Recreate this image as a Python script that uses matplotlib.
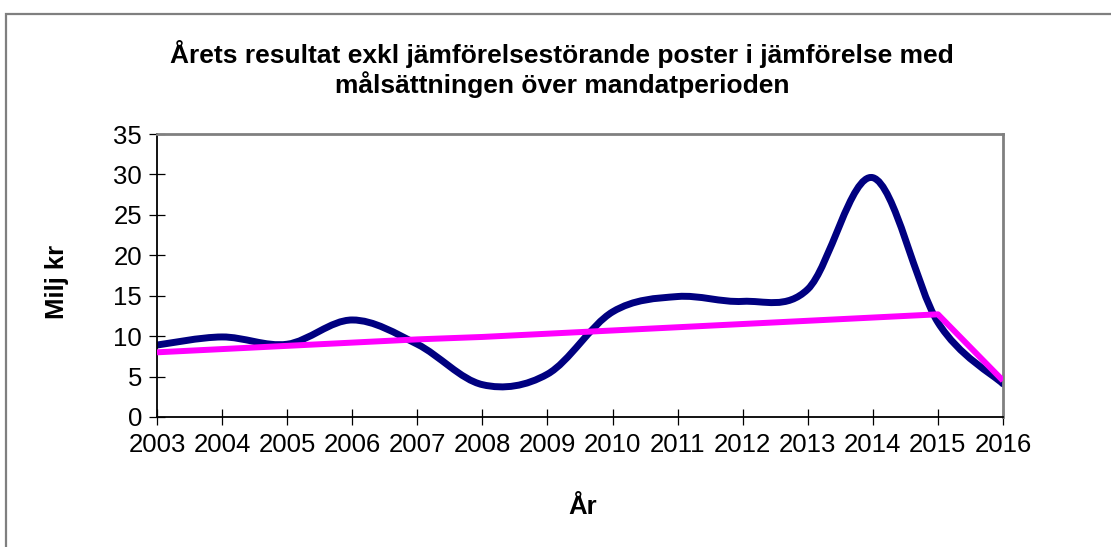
import matplotlib
matplotlib.use("Agg")
import matplotlib.pyplot as plt
from matplotlib.path import Path
from matplotlib.patches import PathPatch, Rectangle

years = [2003, 2004, 2005, 2006, 2007, 2008, 2009, 2010, 2011, 2012, 2013, 2014, 2015, 2016]
resultat = [8.9, 9.9, 9.0, 12.0, 9.0, 4.0, 5.3, 13.0, 14.9, 14.3, 15.8, 29.6, 11.7, 4.1]
malsattning = [8.0, 8.4, 8.8, 9.2, 9.6, 9.9, 10.3, 10.7, 11.1, 11.5, 11.9, 12.3, 12.7, 4.5]
title = "Årets resultat exkl jämförelsestörande poster i jämförelse med\nmålsättningen över mandatperioden"
ylabel = "Milj kr"
xlabel = "År"

plt.rcParams['font.family'] = ['Liberation Sans', 'DejaVu Sans']

W, H = 1111, 547
fig = plt.figure(figsize=(W / 100, H / 100), dpi=100)
# outer chart frame
fig.patches.append(Rectangle((6 / W, -0.1), 1.2, 1 - 14 / H + 0.1, transform=fig.transFigure,
                             fill=False, edgecolor='#7f7f7f', linewidth=1.6))

L, R, T, B = 157, 1003, 134, 417
ax = fig.add_axes([L / W, 1 - B / H, (R - L) / W, (B - T) / H])


def smooth_path(xs, ys):
    pts = list(zip(xs, ys))
    n = len(pts)
    verts = [pts[0]]
    codes = [Path.MOVETO]
    for i in range(n - 1):
        p0 = pts[i - 1] if i > 0 else pts[i]
        p1 = pts[i]
        p2 = pts[i + 1]
        p3 = pts[i + 2] if i + 2 < n else pts[i + 1]
        c1 = (p1[0] + (p2[0] - p0[0]) / 6, p1[1] + (p2[1] - p0[1]) / 6)
        c2 = (p2[0] - (p3[0] - p1[0]) / 6, p2[1] - (p3[1] - p1[1]) / 6)
        verts += [c1, c2, p2]
        codes += [Path.CURVE4] * 3
    return Path(verts, codes)


ax.add_patch(PathPatch(smooth_path(years, resultat), fill=False, edgecolor='#000080',
                       linewidth=5.0, capstyle='round', joinstyle='round', zorder=2))
ax.plot(years, malsattning, color='#ff00ff', linewidth=4.3, solid_capstyle='butt', zorder=3)

ax.set_xlim(2003, 2016)
ax.set_ylim(0, 35)
ax.set_xticks(years)
ax.set_xticklabels([str(y) for y in years])
ax.set_yticks(range(0, 36, 5))

for s in ['top', 'right']:
    ax.spines[s].set_color('#808080')
    ax.spines[s].set_linewidth(2.0)
for s in ['left', 'bottom']:
    ax.spines[s].set_color('#000000')
    ax.spines[s].set_linewidth(1.3)

ax.tick_params(axis='both', direction='inout', length=11.5, width=0.9, color='black',
               labelsize=18.5)
ax.tick_params(axis='y', pad=5)
ax.tick_params(axis='x', pad=6)

fig.text(562 / W, 1 - 69 / H, title, fontsize=19, fontweight='bold', ha='center', va='center',
         linespacing=1.12)
ax.set_ylabel(ylabel, fontsize=18.5, fontweight='bold', va='center', ha='center')
ax.yaxis.set_label_coords((57 - L) / (R - L), (B - 282) / (B - T))
ax.set_xlabel(xlabel, fontsize=18.5, fontweight='bold', va='center', ha='center')
ax.xaxis.set_label_coords((583 - L) / (R - L), (B - 507) / (B - T))

fig.savefig("out.png", dpi=100)
